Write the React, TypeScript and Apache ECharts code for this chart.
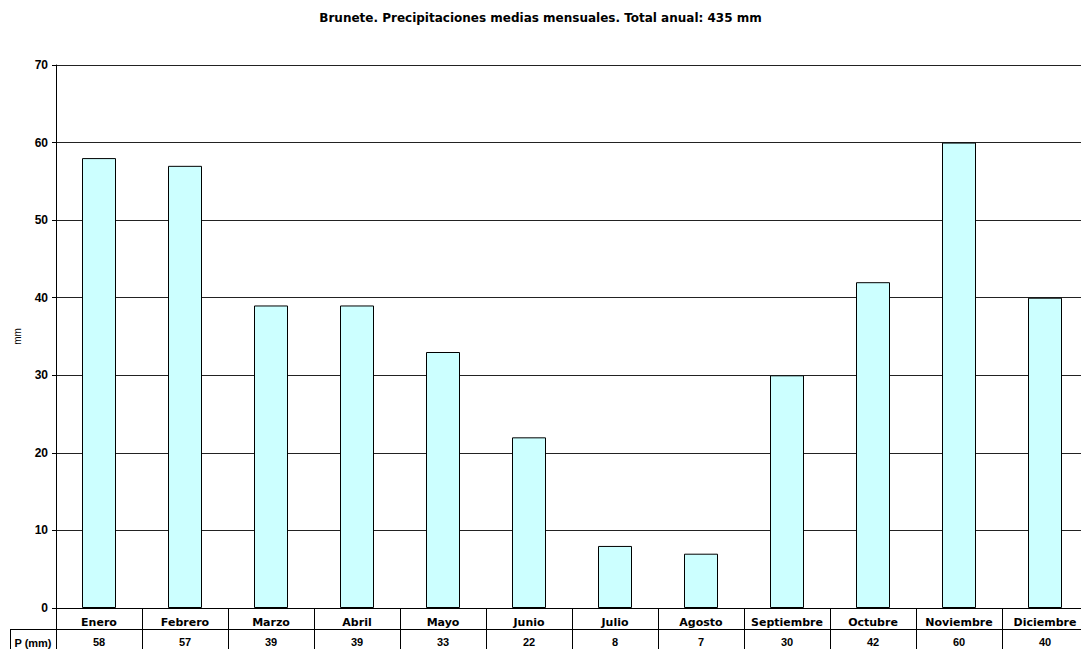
import React, { useEffect, useRef } from "react";
import * as echarts from "echarts";

const titleText = "Brunete. Precipitaciones medias mensuales. Total anual: 435 mm";
const months = ["Enero", "Febrero", "Marzo", "Abril", "Mayo", "Junio", "Julio", "Agosto", "Septiembre", "Octubre", "Noviembre", "Diciembre"];
const precip = [58, 57, 39, 39, 33, 22, 8, 7, 30, 42, 60, 40];
const rowLabel = "P (mm)";
const yName = "mm";

const FONT = "'Liberation Sans', Arial, sans-serif";
const WIDE = "'DejaVu Sans', sans-serif";

export default function App() {
  const ref = useRef<HTMLDivElement>(null);
  useEffect(() => {
    document.body.style.margin = "0";
    const chart = echarts.init(ref.current!, null, { renderer: "svg" });
    chart.setOption({
      animation: false,
      backgroundColor: "#ffffff",
      textStyle: { fontFamily: FONT },
      title: {
        text: titleText,
        left: "center",
        top: 7,
        textStyle: { fontSize: 12, fontWeight: "bold", color: "#000", fontFamily: WIDE },
      },
      grid: { left: 56, top: 65, width: 1032, height: 543, containLabel: false, outerBoundsMode: "none" },
      yAxis: {
        type: "value",
        min: 0,
        max: 70,
        interval: 10,
        name: yName,
        nameLocation: "middle",
        nameRotate: 90,
        nameGap: 34,
        nameTextStyle: { fontSize: 10, color: "#000", fontFamily: FONT },
        axisLine: { show: true, lineStyle: { color: "#000", width: 1 } },
        axisTick: { show: true, length: 4, lineStyle: { color: "#000" } },
        axisLabel: { margin: 8, fontSize: 12, fontWeight: "bold", color: "#000", fontFamily: FONT },
        splitLine: { show: true, lineStyle: { color: "#222", width: 1 } },
      },
      xAxis: [
        {
          type: "category",
          data: months,
          position: "bottom",
          axisLine: { show: true, lineStyle: { color: "#000", width: 1 } },
          axisTick: { show: true, interval: 0, length: 41, alignWithLabel: false, lineStyle: { color: "#000" } },
          axisLabel: { interval: 0, margin: 9, fontSize: 11, fontWeight: "bold", color: "#000", fontFamily: WIDE },
        },
        {
          type: "category",
          data: precip.map((v) => String(v)),
          position: "bottom",
          offset: 21,
          axisLine: { show: true, lineStyle: { color: "#000", width: 1 } },
          axisTick: { show: false },
          axisLabel: { interval: 0, margin: 7, fontSize: 11, fontWeight: "bold", color: "#000", fontFamily: FONT },
        },
      ],
      graphic: [
        { type: "line", shape: { x1: 10, y1: 629.5, x2: 56, y2: 629.5 }, style: { stroke: "#000", lineWidth: 1 } },
        { type: "line", shape: { x1: 10.5, y1: 629.5, x2: 10.5, y2: 649 }, style: { stroke: "#000", lineWidth: 1 } },
        {
          type: "text",
          x: 33,
          y: 643,
          style: { text: rowLabel, fontSize: 11, fontWeight: "bold", fill: "#000", fontFamily: FONT, align: "center", verticalAlign: "middle" },
        },
      ],
      series: [
        {
          type: "bar",
          data: precip,
          xAxisIndex: 0,
          barWidth: 34,
          itemStyle: { color: "#CCFFFF", borderColor: "#000", borderWidth: 1 },
        },
      ],
    });
    return () => chart.dispose();
  }, []);
  return <div ref={ref} style={{ width: 1081, height: 649 }} />;
}
